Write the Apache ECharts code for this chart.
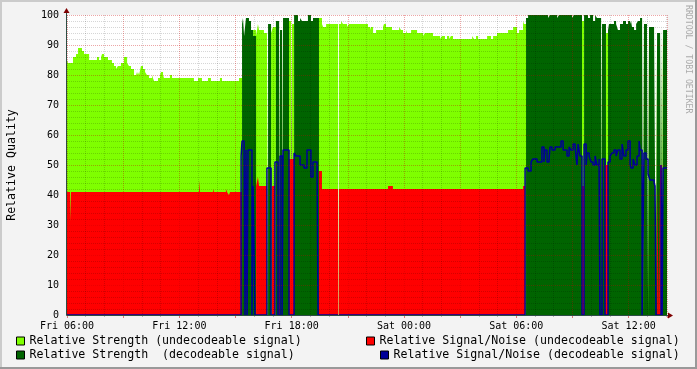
<!DOCTYPE html>
<html><head><meta charset="utf-8">
<script src="https://cdn.jsdelivr.net/npm/echarts@6/dist/echarts.min.js"></script>
<style>html,body{margin:0;padding:0;background:#f3f3f3}#c{width:697px;height:369px}</style>
</head><body><div id="c"></div><script>
// time axis in hours after Fri 06:00
const tickLabels = ['Fri 06:00','Fri 12:00','Fri 18:00','Sat 00:00','Sat 06:00','Sat 12:00'];
const xMax = 32.05;
const seriesNames = ['Relative Strength (undecodeable signal)','Relative Strength  (decodeable signal)','Relative Signal/Noise (undecodeable signal)','Relative Signal/Noise (decodeable signal)'];

const undecStrength = [[0,85],[0.05,84],[0.32,86],[0.48,87],[0.59,89],[0.80,88],[0.91,87],[1.18,85],[1.60,86],[1.71,85],[1.82,86],[1.87,87],[1.98,86],[2.19,85],[2.40,84],[2.51,83],[2.62,82],[2.72,83],[2.88,84],[3.04,86],[3.21,84],[3.31,83],[3.42,82],[3.58,80],[3.69,81],[3.74,80],[3.79,81],[3.85,80],[3.95,83],[4.06,82],[4.17,81],[4.27,80],[4.38,79],[4.54,80],[4.59,79],[4.65,78],[4.86,79],[4.97,80],[5.02,81],[5.13,80],[5.18,79],[5.50,80],[5.61,79],[6.78,78],[7.00,79],[7.21,78],[7.53,79],[7.69,78],[8.17,79],[8.28,78],[9.19,79],[9.35,0],[9.46,95],[9.51,0],[9.94,95],[10.10,93],[10.20,97],[10.26,95],[10.52,94],[10.68,95],[10.74,0],[10.90,94],[11.00,96],[11.16,0],[11.33,96],[11.38,0],[11.49,96],[11.54,0],[11.86,98],[11.97,0],[12.02,97],[12.13,0],[13.46,99],[13.62,97],[13.68,96],[13.84,97],[14.48,97],[14.50,null],[14.53,97],[14.64,98],[14.74,97],[14.96,96],[15.06,97],[16.08,96],[16.19,95],[16.24,96],[16.35,94],[16.51,95],[16.88,96],[16.93,97],[17.04,96],[17.36,95],[17.74,96],[17.84,95],[17.95,94],[18.11,95],[18.16,94],[18.38,95],[18.70,94],[19.02,93],[19.12,94],[19.55,93],[19.93,92],[20.03,93],[20.19,92],[20.30,93],[20.41,92],[20.51,93],[20.62,92],[21.64,93],[21.74,92],[21.85,93],[21.96,92],[22.44,93],[22.65,92],[22.76,93],[22.97,94],[23.56,95],[23.83,96],[24.04,94],[24.15,95],[24.36,98],[24.41,97],[24.52,0],[27.51,98],[27.62,0],[28.53,97],[28.58,0],[28.79,94],[28.90,0],[30.77,97],[30.82,0],[31.04,97],[31.09,0],[31.46,94],[31.52,0],[31.68,93],[31.73,0],[31.79,96],[31.84,0],[32.05,0]];

const decStrength = [[0,0],[9.35,97],[9.40,99],[9.46,93],[9.51,96],[9.56,99],[9.72,98],[9.83,95],[9.94,93],[10.10,0],[10.74,97],[10.90,0],[11.16,98],[11.33,0],[11.38,95],[11.49,0],[11.54,99],[11.86,0],[11.97,96],[12.02,0],[12.13,100],[12.34,98],[12.45,99],[12.55,98],[12.87,100],[13.03,98],[13.14,99],[13.46,0],[24.52,99],[24.63,100],[25.70,99],[25.80,100],[26.18,99],[26.28,100],[26.98,99],[27.08,100],[27.51,0],[27.62,100],[27.83,99],[27.94,100],[28.10,98],[28.21,100],[28.31,99],[28.53,0],[28.58,97],[28.79,0],[28.90,95],[28.95,97],[29.22,98],[29.33,97],[29.43,95],[29.54,97],[29.70,98],[29.86,97],[29.97,98],[30.08,97],[30.13,98],[30.18,96],[30.29,95],[30.40,97],[30.50,98],[30.61,99],[30.72,97],[30.77,0],[30.82,97],[30.98,96],[31.04,0],[31.09,96],[31.36,94],[31.46,0],[31.52,94],[31.68,0],[31.73,97],[31.79,0],[31.84,95],[32.05,95]];

const undecSNR = [[0,41],[0.16,31],[0.21,41],[7.05,45],[7.10,41],[7.80,42],[7.85,41],[8.49,42],[8.55,41],[8.65,40],[8.71,41],[9.35,0],[10.10,43],[10.20,46],[10.26,43],[10.68,0],[10.95,43],[11.11,0],[11.33,43],[11.38,0],[11.86,52],[12.13,0],[13.46,48],[13.62,42],[14.48,42],[14.50,null],[14.53,42],[17.15,43],[17.41,42],[24.36,43],[24.47,0],[27.51,43],[27.62,0],[28.74,50],[28.90,0],[31.52,43],[31.62,0],[31.68,50],[31.79,0],[32.05,0]];

const decSNR = [[0,0],[9.30,53],[9.35,58],[9.46,55],[9.51,0],[9.56,55],[9.62,0],[9.67,55],[9.88,0],[9.94,43],[10.04,0],[10.68,49],[10.90,0],[11.11,51],[11.27,0],[11.38,53],[11.49,0],[11.54,55],[11.86,0],[12.13,54],[12.23,53],[12.45,50],[12.66,49],[12.82,55],[13.03,46],[13.14,51],[13.36,47],[13.41,0],[14.48,0],[14.50,null],[14.53,0],[24.47,49],[24.63,48],[24.79,51],[24.89,52],[25.11,51],[25.37,56],[25.48,51],[25.53,55],[25.64,51],[25.75,52],[25.80,56],[25.91,55],[26.07,56],[26.39,58],[26.50,55],[26.71,53],[26.82,56],[26.92,55],[27.03,57],[27.14,56],[27.24,50],[27.30,57],[27.40,53],[27.51,0],[27.62,57],[27.73,50],[27.78,54],[27.89,53],[27.99,51],[28.10,50],[28.21,53],[28.31,50],[28.42,52],[28.47,0],[28.58,52],[28.74,0],[28.90,51],[29.01,53],[29.11,54],[29.22,55],[29.33,53],[29.43,55],[29.54,52],[29.65,57],[29.75,53],[29.86,55],[29.97,58],[30.08,50],[30.13,49],[30.24,52],[30.34,50],[30.45,53],[30.56,58],[30.61,55],[30.72,0],[30.82,54],[30.93,52],[31.04,47],[31.14,45],[31.36,44],[31.41,43],[31.46,0],[31.73,50],[31.79,0],[31.84,49],[32.05,49]];

const colors = {light:'#7fff00', dark:'#006400', red:'#ff0000', blue:'#000099'};
const MONO = 'DejaVu Sans Mono';

const chart = echarts.init(document.getElementById('c'), null, {renderer:'canvas'});
const legendCommon = {icon:'rect', itemWidth:8, itemHeight:8, padding:0, itemGap:0, selectedMode:false,
  itemStyle:{borderColor:'#000', borderWidth:1},
  textStyle:{fontFamily:MONO, fontSize:11.6, color:'#000'}};
const areaSeries = (name, data, color, z) => ({
  type:'line', name, data, step:'end', symbol:'none', showSymbol:false, z,
  lineStyle:{width:0, opacity:0}, itemStyle:{color}, areaStyle:{color, opacity:1}, clip:true
});
chart.setOption({
  animation:false,
  backgroundColor:'#f3f3f3',
  grid:{left:67, top:15, width:600, height:300, show:true, backgroundColor:'#ffffff', borderWidth:0},
  legend:[
    Object.assign({data:[seriesNames[0]], left:16, top:335}, legendCommon),
    Object.assign({data:[seriesNames[1]], left:16, top:349}, legendCommon),
    Object.assign({data:[seriesNames[2]], left:366, top:335}, legendCommon),
    Object.assign({data:[seriesNames[3]], left:380, top:349}, legendCommon)
  ],
  xAxis:{type:'value', min:0, max:xMax, interval:3, z:5,
    axisLine:{show:false},
    axisTick:{show:true, length:3, lineStyle:{color:'rgba(200,0,0,0.5)'}},
    minorTick:{show:true, splitNumber:3, length:2, lineStyle:{color:'rgba(0,0,0,0.25)'}},
    splitLine:{show:true, lineStyle:{color:'rgba(200,0,0,0.35)', width:1, type:[1,1]}},
    minorSplitLine:{show:true, lineStyle:{color:'rgba(0,0,0,0.16)', width:1, type:[1,1]}},
    axisLabel:{margin:6, fontFamily:MONO, fontSize:10, color:'#000', showMaxLabel:false,
      formatter:v => { const r = Math.round(v*100)/100; return (Math.abs(r % 6) < 1e-6) ? (tickLabels[r/6] || '') : ''; }}
  },
  yAxis:{type:'value', min:0, max:100, interval:10, z:5,
    axisLine:{show:false}, axisTick:{show:false},
    minorTick:{show:false, splitNumber:5},
    splitLine:{show:true, lineStyle:{color:'rgba(200,0,0,0.35)', width:1, type:[1,1]}},
    minorSplitLine:{show:true, lineStyle:{color:'rgba(0,0,0,0.16)', width:1, type:[1,1]}},
    axisLabel:{margin:8, fontFamily:MONO, fontSize:10, color:'#000'}
  },
  series:[
    areaSeries(seriesNames[0], undecStrength, colors.light, 2),
    areaSeries(seriesNames[1], decStrength, colors.dark, 3),
    areaSeries(seriesNames[2], undecSNR, colors.red, 4),
    {type:'line', name:seriesNames[3], data:decSNR, step:'end', symbol:'none', showSymbol:false, z:4.5,
      lineStyle:{width:1.5, color:colors.blue}, itemStyle:{color:colors.blue}, clip:false}
  ]
});

const p0 = chart.convertToPixel({gridIndex:0},[0,0]);
const p1 = chart.convertToPixel({gridIndex:0},[xMax,100]);
const ax = p0[0]-0.5, ay = p0[1]+0.5, rx = p1[0], ty = p1[1];
chart.setOption({graphic:[
  {type:'rect', z:100, shape:{x:0,y:0,width:697,height:2}, style:{fill:'#cbcbcb'}},
  {type:'rect', z:100, shape:{x:0,y:0,width:2,height:369}, style:{fill:'#cbcbcb'}},
  {type:'rect', z:100, shape:{x:0,y:367,width:697,height:2}, style:{fill:'#999999'}},
  {type:'rect', z:100, shape:{x:695,y:0,width:2,height:369}, style:{fill:'#999999'}},
  {type:'line', z:100, shape:{x1:ax,y1:ay,x2:rx+2,y2:ay}, style:{stroke:'#2c4d43', lineWidth:1}},
  {type:'line', z:100, shape:{x1:ax,y1:ay,x2:ax,y2:ty-3}, style:{stroke:'#2c4d43', lineWidth:1}},
  {type:'polygon', z:101, shape:{points:[[rx+1,ay-3],[rx+1,ay+3],[rx+6,ay]]}, style:{fill:'#7f0000'}},
  {type:'polygon', z:101, shape:{points:[[ax-3,ty-2],[ax+3,ty-2],[ax,ty-7]]}, style:{fill:'#7f0000'}},
  {type:'text', z:100, x:12, y:165, rotation:Math.PI/2,
    style:{text:'Relative Quality', font:'11.6px "DejaVu Sans Mono"', fill:'#000', align:'center', verticalAlign:'middle'}},
  {type:'text', z:100, x:688, y:5, rotation:-Math.PI/2,
    style:{text:'RRDTOOL / TOBI OETIKER', font:'8.2px "DejaVu Sans Mono"', fill:'#aaaaaa', align:'left', verticalAlign:'middle'}}
]});
</script></body></html>
